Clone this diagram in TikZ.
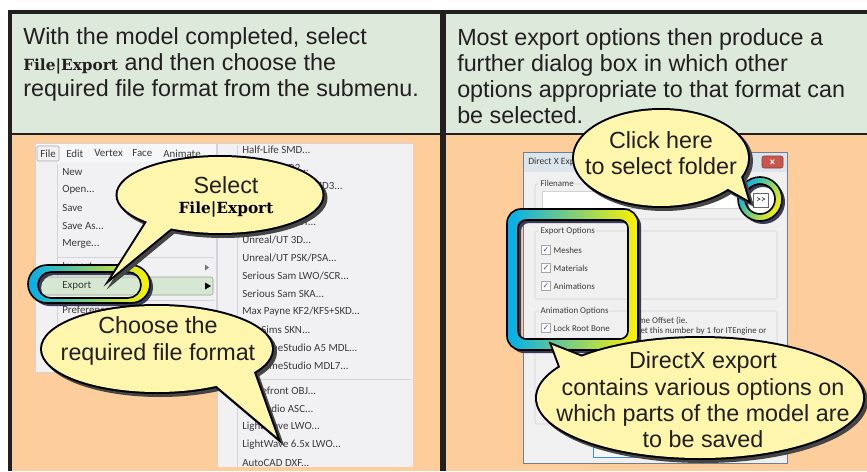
\documentclass[tikz,border=0pt]{standalone}
\usepackage{fontspec}
\setmainfont{Liberation Sans}
\newfontfamily\uifont{Carlito}
\newfontfamily\cmdfont{DejaVu Serif}
\newfontfamily\symfont{DejaVu Sans}
\usetikzlibrary{positioning,calc,shapes.geometric}

\definecolor{frame}{HTML}{231F20}
\definecolor{headgreen}{HTML}{DDE9DA}
\definecolor{peach}{HTML}{FDCE9C}
\definecolor{bubblefill}{HTML}{FFF6AE}
\definecolor{bubbleshadow}{HTML}{454545}
\definecolor{ringcyan}{HTML}{00AEEF}
\definecolor{ringgreen}{HTML}{8CC9A4}
\definecolor{ringyellow}{HTML}{FFF200}
\definecolor{ringshadow}{HTML}{3A3956}
\definecolor{menubg}{HTML}{F1F1F3}
\definecolor{menubar}{HTML}{F6F7F9}
\definecolor{menuline}{HTML}{D4D4D8}
\definecolor{menuhl}{HTML}{D6E8D2}
\definecolor{dlgbg}{HTML}{F0F0F0}
\definecolor{dlgedge}{HTML}{6F7F90}
\definecolor{titlebg}{HTML}{DCE4EC}
\definecolor{grouped}{HTML}{D2D2D2}
\definecolor{uitext}{HTML}{3A3A3A}
\definecolor{textdark}{HTML}{231F20}
\definecolor{closered}{HTML}{C9564C}
\definecolor{okblue}{HTML}{3C8FD8}

\newcommand{\pxu}{0.75pt}
\newcommand{\mdots}{...}
\newcommand{\cmdtext}[1]{{\cmdfont\bfseries\fontsize{11.5}{13}\selectfont #1}}

\tikzset{head text/.style={anchor=base west,font=\fontsize{17.5}{21}\selectfont,text=textdark,inner sep=0pt},
  bubble text/.style={anchor=base,font=\fontsize{17.5}{21}\selectfont,text=textdark,inner sep=0pt},
  cmd text/.style={anchor=base,font=\cmdfont\bfseries\fontsize{11.5}{13}\selectfont,text=black,inner sep=0pt},
  menu item/.style={anchor=west,font=\uifont\fontsize{8.2}{9}\selectfont,text=uitext,inner sep=0pt},
  dialog item/.style={anchor=west,font=\uifont\fontsize{6.7}{7.5}\selectfont,text=uitext,inner sep=0pt},
  group label/.style={dialog item,fill=dlgbg,inner xsep=1pt},
  group line/.style={draw=grouped,rounded corners=1.5pt},
  check box/.style={draw=gray!70,fill=white,minimum size=9*\pxu,inner sep=0pt,font=\symfont\fontsize{6}{6}\selectfont,text=blue!40!gray},
  file box/.style={draw=gray!70,fill=menubg,rounded corners=1pt,minimum width=22*\pxu,minimum height=15*\pxu,inner sep=0pt,font=\uifont\fontsize{8.2}{9}\selectfont,text=uitext},
  close btn/.style={fill=closered,draw=closered!70!black,rounded corners=1.5pt,minimum width=21*\pxu,minimum height=12*\pxu,inner sep=0pt,text=white,font=\symfont\bfseries\fontsize{6}{6}\selectfont},
  bubble/.style={ellipse,inner sep=0pt,fill=bubblefill},
  bubble edge/.style={bubble,draw=black,line width=4*\pxu},
  bubble line/.style={draw=black,fill=bubblefill,line width=4*\pxu},
  bubble shadow/.style={ellipse,inner sep=0pt,fill=bubbleshadow,draw=bubbleshadow,line width=4*\pxu},
  ring/.style={even odd rule,left color=ringcyan,middle color=ringgreen,right color=ringyellow},
  ring edge/.style={draw=black,line width=1.6*\pxu},
}

% #1 name, #2 centre, #3 width, #4 height, #5 #6 tail base (from centre), #7 tail tip
\newcommand{\bubble}[7]{%
  \node[bubble shadow,minimum width=#3*\pxu,minimum height=#4*\pxu] (#1 shadow) at ($#2+(3,3)$) {};
  \filldraw[bubbleshadow,line width=4*\pxu] ($#2+#5+(3,3)$) -- ($#7+(3,3)$) -- ($#2+#6+(3,3)$) -- cycle;
  \node[bubble edge,minimum width=#3*\pxu,minimum height=#4*\pxu] (#1 edge) at #2 {};
  \draw[bubble line] ($#2+#5$) -- #7 -- ($#2+#6$) -- cycle;
  \fill[bubblefill] ($#2+#5$) -- #7 -- ($#2+#6$) -- cycle;
  \node[bubble,minimum width=#3*\pxu,minimum height=#4*\pxu] (#1) at #2 {};
}

\begin{document}
\begin{tikzpicture}[x=0.75pt,y=-0.75pt]
\useasboundingbox (0,0) rectangle (867,471);
% panels and frame
\fill[white] (0,0) rectangle (867,471);
\fill[headgreen] (12,13) rectangle (867,134);
\fill[peach] (12,134) rectangle (867,471);
\draw[frame,line width=1.5*\pxu] (12,134) -- (867,134);
\fill[frame] (8,10) rectangle (867,13.5);
\fill[frame] (8,10) rectangle (12,471);
\fill[frame] (440,10) rectangle (446,471);

% header texts
\node[head text] (left 1) at (23,44) {With the model completed, select};
\node[head text] (left 2) at (23,70) {\cmdtext{File|Export} and then choose the};
\node[head text] (left 3) at (23,96) {required file format from the submenu.};
\node[head text] (right 1) at (457,45) {Most export options then produce a};
\node[head text] (right 2) at (457,71) {further dialog box in which other};
\node[head text] (right 3) at (457,97) {options appropriate to that format can};
\node[head text] (right 4) at (457,123) {be selected.};

% file menu
\filldraw[fill=menubg,draw=menuline] (35,143) rectangle (216,372);
\fill[menubar] (35.5,143.5) rectangle (215.5,162);
\draw[menuline] (57,164) -- (57,370);
\node[file box] (file) at (48,153.5) {File};
\foreach \t/\x in {Edit/66,Vertex/94,Face/132,Animate/163}
  \node[menu item] (bar \t) at (\x,153.5) {\t};
\foreach \t [count=\i] in {New,Open\mdots,Save,Save As\mdots,Merge\mdots}
  \node[menu item] (item \i) at (62,172+18*\i-18) {\t};
\draw[menuline] (58,257) -- (214,257);
\node[menu item] (item import) at (62,267) {Import};
\fill[uitext!70] (205,264.5) -- (209,267.5) -- (205,270.5) -- cycle;
\filldraw[fill=menuhl,draw=menuhl!70!black,rounded corners=1.5pt] (38,277) rectangle (213,295);
\node[menu item] (item export) at (62,286) {Export};
\fill[black] (205,282.5) -- (211,286) -- (205,289.5) -- cycle;
\draw[menuline] (58,300) -- (214,300);
\node[menu item] (item prefs) at (62,310) {Preferences\mdots};

% export submenu
\begin{scope}
\clip (217,143) rectangle (413,466);
\filldraw[fill=menubg,draw=menuline] (217,143) rectangle (413,470);
\draw[menuline] (237,145) -- (237,470);
\foreach \t [count=\i] in {Half-Life SMD\mdots,Quake2 MD2\mdots,Quake III Arena MD3\mdots}
  \node[menu item] (sub a\i) at (242,150+18*\i-18) {\t};
\foreach \t [count=\i] in {Genesis3D ACT\mdots,Unreal/UT 3D\mdots,Unreal/UT PSK/PSA\mdots,Serious Sam LWO/SCR\mdots,Serious Sam SKA\mdots,Max Payne KF2/KFS+SKD\mdots,The Sims SKN\mdots,3D GameStudio A5 MDL\mdots,3D GameStudio MDL7\mdots}
  \node[menu item] (sub \i) at (242,222+18*\i-18) {\t};
\draw[menuline] (239,379) -- (411,379);
\foreach \t [count=\i] in {Wavefront OBJ\mdots,3D Studio ASC\mdots,LightWave LWO\mdots,LightWave 6.5x LWO\mdots,AutoCAD DXF\mdots}
  \node[menu item] (sub b\i) at (242,391+18*\i-18) {\t};
\end{scope}

% ring round Export
\fill[ringshadow,even odd rule,rounded corners=14.25pt] (31,268) rectangle (153,306) [rounded corners=9.75pt] (41,275) rectangle (144,301);
\shade[ring,rounded corners=14.25pt] (28,265) rectangle (150,303) [rounded corners=9.75pt] (38,272) rectangle (141,298);
\draw[ring edge,rounded corners=14.25pt] (28,265) rectangle (150,303) [rounded corners=9.75pt] (38,272) rectangle (141,298);

% left callouts
\bubble{select}{(220,195)}{205}{76}{(-70,22)}{(-45,30)}{(112,277)}
\node[bubble text] (select text) at (226,193) {Select};
\node[cmd text] (select cmd) at (226,213) {File|Export};
\bubble{choose}{(157,349)}{230}{86}{(55,33)}{(95,18)}{(277,437)}
\node[bubble text] (choose 1) at (158,333) {Choose the};
\node[bubble text] (choose 2) at (158,360) {required file format};

% DirectX dialog
\filldraw[fill=dlgbg,draw=dlgedge] (523,152) rectangle (787,463);
\fill[titlebg] (523.5,152.5) rectangle (786.5,172);
\node[dialog item,font=\uifont\fontsize{7.2}{8}\selectfont] (title) at (528,162) {Direct X Export};
\node[close btn] (close) at (772.5,162) {x};
\draw[group line] (535,184) rectangle (778,219);
\node[group label] (grp file) at (539,183) {Filename};
\filldraw[fill=white,draw=grouped] (542,191) rectangle (745,208);
\draw[group line] (535,231) rectangle (777,299);
\node[group label] (grp export) at (539,231) {Export Options};
\foreach \t [count=\i] in {Meshes,Materials,Animations} {
  \node[check box] (cb \i) at (546,232+18*\i) {✓};
  \node[dialog item,right=2pt of cb \i] (opt \i) {\t};
}
\draw[group line] (535,311) rectangle (777,424);
\node[group label] (grp anim) at (539,311) {Animation Options};
\node[check box] (cb lock) at (546,328) {✓};
\node[dialog item,right=2pt of cb lock] (lock) {Lock Root Bone};
\node[dialog item] (offset 1) at (627,321) {Frame Offset (ie.};
\node[dialog item] (offset 2) at (627,331) {offset this number by 1 for ITEngine or};
\filldraw[fill=dlgbg!60!white,draw=okblue] (593,440) rectangle (655,457);

% ring round the options
\fill[ringshadow,even odd rule,rounded corners=10.5pt] (510,212) rectangle (641,353) [rounded corners=6pt] (521,223) rectangle (631,342);
\shade[ring,rounded corners=10.5pt] (507,209) rectangle (638,350) [rounded corners=6pt] (518,220) rectangle (628,339);
\draw[ring edge,rounded corners=10.5pt] (507,209) rectangle (638,350) [rounded corners=6pt] (518,220) rectangle (628,339);

% ring round the folder button
\fill[white] (760,199) circle[radius=11.25pt];
\fill[ringshadow,even odd rule] (763,202) circle[radius=16.5pt] (763,202) circle[radius=11.25pt];
\shade[ring,shading angle=60] (760,199) circle[radius=16.5pt] (760,199) circle[radius=11.25pt];
\draw[ring edge] (760,199) circle[radius=16.5pt] (760,199) circle[radius=11.25pt];
\node[draw=gray!80!black,fill=white,minimum width=15*\pxu,minimum height=14*\pxu,inner sep=0pt,font=\uifont\fontsize{7}{7}\selectfont] (browse) at (761,200) {>>};

% right callouts
\bubble{folder}{(661,158)}{174}{96}{(62,28)}{(78,12)}{(748,200)}
\node[bubble text] (folder 1) at (661,148) {Click here};
\node[bubble text] (folder 2) at (661,174) {to select folder};
\bubble{directx}{(700,398)}{326}{120}{(-135,-18)}{(-110,-38)}{(552,345)}
\node[bubble text] (directx 1) at (703,368) {DirectX export};
\node[bubble text] (directx 2) at (703,395) {contains various options on};
\node[bubble text] (directx 3) at (703,421) {which parts of the model are};
\node[bubble text] (directx 4) at (703,447) {to be saved};
\end{tikzpicture}
\end{document}
